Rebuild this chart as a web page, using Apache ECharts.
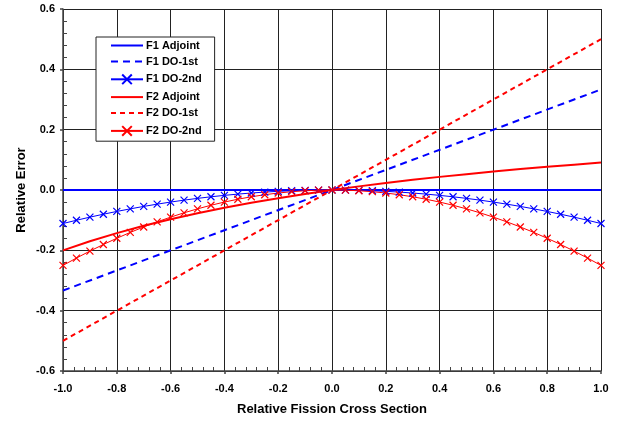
<!DOCTYPE html>
<html><head><meta charset="utf-8">
<script src="https://cdn.jsdelivr.net/npm/echarts@6/dist/echarts.min.js"></script>
<style>html,body{margin:0;padding:0;background:#fff}#c{width:617px;height:421px}</style>
</head><body><div id="c"></div>
<script>
// ---- data ----
const xEnds = [-1.0, 1.0];
const f1AdjointY = [0.0, 0.0];
const f1DO1stY = [-0.3333, 0.3333];
const f2DO1stY = [-0.5, 0.5];

const xCoarse = [-1.0,-0.9,-0.8,-0.7,-0.6,-0.5,-0.4,-0.3,-0.2,-0.1,0.0,0.1,0.2,0.3,0.4,0.5,0.6,0.7,0.8,0.9,1.0];
const f2AdjointY = [-0.2,-0.1698,-0.1429,-0.1186,-0.0968,-0.0769,-0.0588,-0.0423,-0.0270,-0.0130,0.0,
                    0.0120,0.0233,0.0337,0.0435,0.0526,0.0612,0.0693,0.0769,0.0841,0.0909];

const xFine = [-1.0,-0.95,-0.9,-0.85,-0.8,-0.75,-0.7,-0.65,-0.6,-0.55,-0.5,-0.45,-0.4,-0.35,-0.3,-0.25,-0.2,-0.15,-0.1,-0.05,
               0.0,0.05,0.1,0.15,0.2,0.25,0.3,0.35,0.4,0.45,0.5,0.55,0.6,0.65,0.7,0.75,0.8,0.85,0.9,0.95,1.0];
const f1DO2ndY = [-0.1111,-0.1003,-0.09,-0.0803,-0.0711,-0.0625,-0.0544,-0.0469,-0.04,-0.0336,-0.0278,-0.0225,-0.0178,-0.0136,-0.01,-0.0069,-0.0044,-0.0025,-0.0011,-0.0003,
                  0.0,-0.0003,-0.0011,-0.0025,-0.0044,-0.0069,-0.01,-0.0136,-0.0178,-0.0225,-0.0278,-0.0336,-0.04,-0.0469,-0.0544,-0.0625,-0.0711,-0.0803,-0.09,-0.1003,-0.1111];
const f2DO2ndY = [-0.25,-0.2256,-0.2025,-0.1806,-0.16,-0.1406,-0.1225,-0.1056,-0.09,-0.0756,-0.0625,-0.0506,-0.04,-0.0306,-0.0225,-0.0156,-0.01,-0.0056,-0.0025,-0.0006,
                  0.0,-0.0006,-0.0025,-0.0056,-0.01,-0.0156,-0.0225,-0.0306,-0.04,-0.0506,-0.0625,-0.0756,-0.09,-0.1056,-0.1225,-0.1406,-0.16,-0.1806,-0.2025,-0.2256,-0.25];

const seriesNames = ['F1 Adjoint','F1 DO-1st','F1 DO-2nd','F2 Adjoint','F2 DO-1st','F2 DO-2nd'];
const xAxisTitle = 'Relative Fission Cross Section';
const yAxisTitle = 'Relative Error';

const pairs = (xs, ys) => xs.map((x, i) => [x, ys[i]]);
const BLUE = '#0000ff', RED = '#ff0000';
const XSYM = 'path://M0,0L10,10M10,0L0,10';
const FONT = 'Liberation Sans, Arial, sans-serif';
const HIDE = {color: 'rgba(0,0,0,0)', borderColor: 'rgba(0,0,0,0)', borderWidth: 0};

const chart = echarts.init(document.getElementById('c'), null, {renderer: 'canvas'});
const axisCommon = {
  min: -1, max: 1, interval: 0.2,
  axisLine: {show: true, onZero: false, lineStyle: {color: '#444', width: 1.5}},
  axisTick: {show: true, inside: false, length: 3, lineStyle: {color: '#444', width: 1.5}},
  minorTick: {show: true, splitNumber: 5, length: -4, lineStyle: {color: '#444', width: 1}},
  splitLine: {show: true, lineStyle: {color: '#222', width: 1}},
  axisLabel: {color: '#000', fontFamily: FONT, fontWeight: 'bold', fontSize: 11, formatter: v => v.toFixed(1)},
  nameLocation: 'middle',
  nameTextStyle: {color: '#000', fontFamily: FONT, fontWeight: 'bold', fontSize: 13}
};
const option = {
  backgroundColor: '#fff',
  animation: false,
  grid: {left: 63, right: 16, top: 9, bottom: 50, containLabel: false},
  xAxis: Object.assign({}, axisCommon, {type: 'value', name: xAxisTitle, nameGap: 32,
    axisLabel: Object.assign({}, axisCommon.axisLabel, {margin: 12})}),
  yAxis: Object.assign({}, axisCommon, {type: 'value', min: -0.6, max: 0.6, interval: 0.2,
    axisLabel: Object.assign({}, axisCommon.axisLabel, {margin: 8})}),
  graphic: [{
    type: 'text', x: 21.5, y: 190, rotation: Math.PI / 2,
    style: {text: yAxisTitle, fill: '#000', font: 'bold 13px ' + FONT, align: 'center', verticalAlign: 'middle'}
  }],
  legend: {
    orient: 'vertical', left: 96, top: 37,
    backgroundColor: '#fff', borderColor: '#222', borderWidth: 1,
    padding: [3, 13, 3, 14], itemWidth: 32, itemHeight: 12, itemGap: 5,
    textStyle: {color: '#000', fontFamily: FONT, fontWeight: 'bold', fontSize: 11, padding: [0,0,0,-2]},
    data: [
      {name: seriesNames[0], itemStyle: HIDE},
      {name: seriesNames[1], itemStyle: HIDE},
      {name: seriesNames[2]},
      {name: seriesNames[3], itemStyle: HIDE},
      {name: seriesNames[4], itemStyle: HIDE},
      {name: seriesNames[5]}
    ]
  },
  series: [
    {name: seriesNames[0], type: 'line', data: pairs(xEnds, f1AdjointY), symbol: 'none',
     lineStyle: {color: BLUE, width: 2}, itemStyle: {color: BLUE}, z: 3},
    {name: seriesNames[1], type: 'line', data: pairs(xEnds, f1DO1stY), symbol: 'none',
     lineStyle: {color: BLUE, width: 2, type: [7, 5]}, itemStyle: {color: BLUE}},
    {name: seriesNames[2], type: 'line', data: pairs(xFine, f1DO2ndY), symbol: XSYM, symbolSize: 7,
     lineStyle: {color: BLUE, width: 1}, itemStyle: {color: 'none', borderColor: BLUE, borderWidth: 1.2}},
    {name: seriesNames[3], type: 'line', data: pairs(xCoarse, f2AdjointY), symbol: 'none',
     lineStyle: {color: RED, width: 2}, itemStyle: {color: RED}},
    {name: seriesNames[4], type: 'line', data: pairs(xEnds, f2DO1stY), symbol: 'none',
     lineStyle: {color: RED, width: 2, type: [5, 4]}, itemStyle: {color: RED}},
    {name: seriesNames[5], type: 'line', data: pairs(xFine, f2DO2ndY), symbol: XSYM, symbolSize: 7,
     lineStyle: {color: RED, width: 1}, itemStyle: {color: 'none', borderColor: RED, borderWidth: 1.2}}
  ]
};
chart.setOption(option);
</script></body></html>
